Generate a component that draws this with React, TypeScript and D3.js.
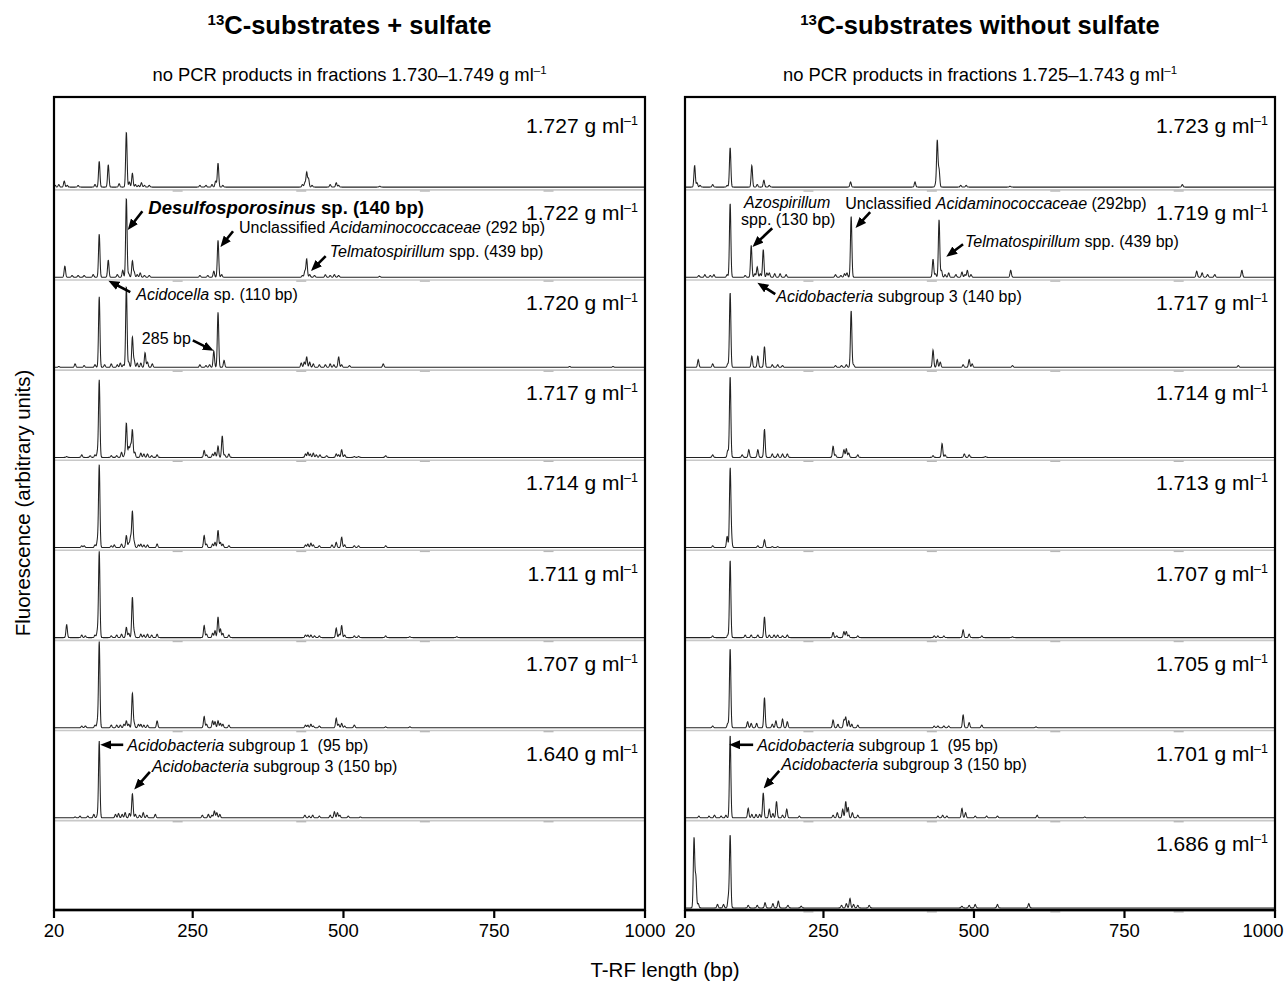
import React from 'react';
import * as d3 from 'd3';

type Peak = [number, number]; // [T-RF length (bp), relative height (% of lane)]

const xDomain: [number, number] = [20, 1000];
const xTickValues = [20, 250, 500, 750, 1000];
const rulerBp = [225, 430, 635, 840];

const leftTitle = 'C-substrates + sulfate';
const rightTitle = 'C-substrates without sulfate';
const leftSubtitle = 'no PCR products in fractions 1.730–1.749 g ml';
const rightSubtitle = 'no PCR products in fractions 1.725–1.743 g ml';

const leftDensities = ['1.727', '1.722', '1.720', '1.717', '1.714', '1.711', '1.707', '1.640'];
const rightDensities = ['1.723', '1.719', '1.717', '1.714', '1.713', '1.707', '1.705', '1.701', '1.686'];

// ---- left panel (+ sulfate) ----
const L1727: Peak[] = [[22,2],[28,3],[37,7],[42,2],[60,2],[88,3],[95,30],[110,26],[128,4],[140,64],[145,6],[150,16],[155,3],[160,2],[165,5],[170,2],[178,2],[262,2],[272,2],[282,3],[288,7],[292,28],[300,2],[432,3],[436,5],[439,17],[442,10],[448,2],[478,3],[488,5],[492,2],[560,1]];
const L1722: Peak[] = [[38,13],[50,2],[60,2],[70,2],[85,3],[95,50],[110,20],[125,3],[134,8],[140,92],[144,4],[150,19],[153,6],[158,3],[163,5],[170,2],[178,2],[262,2],[275,2],[285,7],[292,43],[298,3],[432,2],[436,7],[439,21],[444,3],[452,2],[470,3],[478,2],[485,3],[492,2],[560,1]];
const L1720: Peak[] = [[28,1],[55,4],[70,2],[88,3],[95,82],[104,3],[115,4],[125,3],[130,5],[135,3],[140,94],[144,6],[150,35],[153,8],[158,5],[164,5],[171,17],[175,6],[183,4],[262,3],[272,2],[278,3],[285,19],[292,64],[302,8],[430,5],[435,6],[439,12],[444,6],[450,4],[460,3],[470,3],[478,4],[484,3],[492,12],[497,3],[510,2],[566,4],[875,1],[947,1]];
const L1717: Peak[] = [[41,1],[66,3],[80,2],[88,3],[92,6],[95,90],[115,2],[124,2],[132,6],[137,3],[140,40],[144,12],[147,14],[150,32],[154,6],[164,5],[169,4],[175,4],[182,2],[191,3],[269,8],[273,3],[283,4],[287,6],[292,13],[299,25],[303,3],[310,4],[437,4],[441,6],[445,4],[450,5],[455,3],[461,3],[472,2],[488,4],[492,3],[497,9],[502,3],[518,1],[525,1],[570,2]];
const L1714: Peak[] = [[66,2],[70,2],[88,3],[92,8],[95,96],[115,2],[120,3],[132,4],[140,14],[144,5],[147,12],[150,42],[153,6],[160,3],[164,4],[169,3],[175,3],[191,4],[269,14],[273,4],[283,4],[287,6],[292,20],[296,6],[300,4],[310,2],[437,3],[441,4],[446,5],[450,3],[460,2],[481,3],[488,6],[497,12],[502,3],[518,2],[525,2],[570,2]];
const L1711: Peak[] = [[41,15],[66,3],[72,2],[88,3],[92,8],[95,100],[115,2],[124,3],[132,4],[140,12],[144,5],[150,47],[153,6],[164,4],[169,3],[175,4],[182,3],[191,4],[269,14],[273,4],[283,5],[287,8],[292,24],[296,10],[300,5],[310,3],[437,3],[441,3],[446,3],[452,2],[460,2],[488,11],[493,4],[497,14],[502,3],[518,2],[525,2],[570,2],[610,1],[688,1]];
const L1707: Peak[] = [[66,2],[72,2],[88,3],[92,7],[95,100],[115,3],[124,3],[130,3],[136,4],[140,8],[144,4],[150,40],[153,5],[160,4],[164,4],[169,3],[175,3],[191,8],[269,13],[273,4],[283,8],[287,7],[292,8],[296,5],[300,4],[310,3],[437,3],[441,3],[446,4],[450,2],[460,2],[488,11],[492,4],[497,5],[502,2],[518,3],[570,1],[610,1]];
const L1640: Peak[] = [[55,1],[63,2],[76,2],[86,4],[92,3],[95,89],[122,4],[127,5],[133,4],[138,6],[145,5],[150,28],[155,4],[162,3],[168,6],[174,3],[188,4],[266,3],[276,4],[282,3],[286,8],[290,6],[295,4],[436,3],[443,2],[449,3],[460,2],[478,3],[485,7],[490,6],[494,3],[508,2],[528,1]];

// ---- right panel (without sulfate) ----
const R1723: Peak[] = [[36,25],[40,5],[45,2],[66,3],[90,2],[95,46],[131,25],[140,3],[151,8],[160,2],[295,6],[402,6],[436,3],[439,54],[442,20],[478,2],[487,2],[560,1],[846,3]];
const R1719: Peak[] = [[43,2],[53,3],[62,2],[68,3],[90,3],[95,86],[120,2],[130,37],[136,4],[140,12],[145,4],[150,32],[156,5],[160,5],[169,4],[178,4],[188,3],[270,3],[279,2],[285,4],[289,5],[296,71],[432,21],[436,4],[442,67],[446,8],[452,3],[458,5],[470,3],[480,6],[485,3],[489,8],[495,3],[561,8],[870,7],[879,5],[888,3],[900,3],[945,8]];
const R1717: Peak[] = [[42,9],[66,4],[91,4],[95,87],[131,13],[141,13],[152,24],[165,3],[174,3],[182,2],[270,2],[280,2],[288,3],[296,66],[300,3],[432,20],[439,9],[444,6],[482,3],[492,9],[497,4],[564,2],[939,2]];
const R1714: Peak[] = [[66,3],[91,8],[95,94],[115,3],[126,9],[141,9],[152,33],[165,4],[174,4],[182,4],[190,4],[266,13],[270,3],[284,9],[288,10],[292,5],[307,3],[432,2],[447,16],[452,3],[484,4],[492,3],[519,1]];
const R1713: Peak[] = [[66,2],[90,13],[95,90],[97,12],[141,2],[152,9],[165,1],[174,1]];
const R1707: Peak[] = [[66,2],[91,3],[95,90],[120,3],[130,3],[141,3],[152,24],[160,3],[168,3],[174,3],[182,2],[190,3],[266,6],[272,2],[284,7],[288,7],[292,3],[307,2],[434,2],[440,2],[450,2],[482,9],[492,4],[513,2],[564,1]];
const R1705: Peak[] = [[66,2],[91,5],[95,92],[124,7],[130,5],[139,5],[152,35],[165,4],[171,8],[182,10],[190,7],[266,9],[274,4],[284,9],[287,12],[292,8],[297,4],[307,3],[434,2],[440,2],[450,2],[458,2],[482,15],[492,6],[513,3],[603,1]];
const R1701: Peak[] = [[43,2],[60,2],[69,3],[80,2],[88,3],[95,96],[125,11],[131,4],[138,4],[144,4],[150,29],[160,10],[166,5],[172,19],[182,3],[189,10],[210,2],[266,3],[273,6],[282,10],[287,19],[291,12],[298,6],[307,3],[440,2],[448,3],[455,2],[480,11],[486,6],[502,2],[521,2],[539,2],[605,3],[684,1]];
const R1686: Peak[] = [[35,81],[38,36],[42,5],[74,4],[84,4],[92,12],[95,85],[125,3],[140,3],[153,6],[166,5],[175,8],[191,3],[213,2],[280,3],[288,5],[294,11],[300,4],[307,3],[326,3],[480,2],[492,3],[502,4],[539,4],[591,5]];

const leftTraces = [L1727, L1722, L1720, L1717, L1714, L1711, L1707, L1640];
const rightTraces = [R1723, R1719, R1717, R1714, R1713, R1707, R1705, R1701, R1686];

type Seg = { t: string; i?: boolean };
type NoteLine = { dx: number; dy: number; anchor?: 'start' | 'middle' | 'end'; size: number; bold?: boolean; segs: Seg[] };
type Note = { track: number; bp: number; tip: [number, number]; vec: [number, number]; lines: NoteLine[] };

const leftNotes: Note[] = [
  { track: 1, bp: 140, tip: [2, 48], vec: [14, -18], lines: [{ dx: 6, dy: 3, size: 18.5, bold: true, segs: [{ t: 'Desulfosporosinus', i: true }, { t: ' sp. (140 bp)' }] }] },
  { track: 1, bp: 292, tip: [3, 31], vec: [12, -15], lines: [{ dx: 6, dy: 2, size: 16, segs: [{ t: 'Unclassified ' }, { t: 'Acidaminococcaceae', i: true }, { t: ' (292 bp)' }] }] },
  { track: 1, bp: 439, tip: [5, 7], vec: [14, -14], lines: [{ dx: 4, dy: 1, size: 16, segs: [{ t: 'Telmatospirillum', i: true }, { t: ' spp. (439 bp)' }] }] },
  { track: 1, bp: 110, tip: [1, -4], vec: [21, 11], lines: [{ dx: 6, dy: 8, size: 16, segs: [{ t: 'Acidocella', i: true }, { t: ' sp. (110 bp)' }] }] },
  { track: 2, bp: 285, tip: [-1, 17], vec: [-20, -10], lines: [{ dx: -2, dy: 4, anchor: 'end', size: 16, segs: [{ t: '285 bp' }] }] },
  { track: 7, bp: 95, tip: [2, 73], vec: [22, 0], lines: [{ dx: 4, dy: 6, size: 16, segs: [{ t: 'Acidobacteria', i: true }, { t: ' subgroup 1  (95 bp)' }] }] },
  { track: 7, bp: 150, tip: [2.5, 29], vec: [15, -17], lines: [{ dx: 2, dy: 0, size: 16, segs: [{ t: 'Acidobacteria', i: true }, { t: ' subgroup 3 (150 bp)' }] }] },
];

const rightNotes: Note[] = [
  { track: 1, bp: 130, tip: [2, 31], vec: [19, -18], lines: [
    { dx: 15, dy: -20, anchor: 'middle', size: 16, segs: [{ t: 'Azospirillum', i: true }] },
    { dx: 16, dy: -3, anchor: 'middle', size: 16, segs: [{ t: 'spp. (130 bp)' }] },
  ] },
  { track: 1, bp: 296, tip: [5, 50], vec: [14, -15], lines: [{ dx: -25, dy: -3, size: 16, segs: [{ t: 'Unclassified ' }, { t: 'Acidaminococcaceae', i: true }, { t: ' (292bp)' }] }] },
  { track: 1, bp: 442, tip: [8, 21], vec: [16, -12], lines: [{ dx: 2, dy: 3, size: 16, segs: [{ t: 'Telmatospirillum', i: true }, { t: ' spp. (439 bp)' }] }] },
  { track: 1, bp: 140, tip: [1, -6], vec: [17, 11], lines: [{ dx: 1, dy: 8, size: 16, segs: [{ t: 'Acidobacteria', i: true }, { t: ' subgroup 3 (140 bp)' }] }] },
  { track: 7, bp: 95, tip: [0, 73], vec: [23, 0], lines: [{ dx: 4, dy: 6, size: 16, segs: [{ t: 'Acidobacteria', i: true }, { t: ' subgroup 1  (95 bp)' }] }] },
  { track: 7, bp: 150, tip: [1, 30], vec: [15, -17], lines: [{ dx: 2, dy: -1, size: 16, segs: [{ t: 'Acidobacteria', i: true }, { t: ' subgroup 3 (150 bp)' }] }] },
];

const FONT = "'Liberation Sans', Arial, Helvetica, sans-serif";
const W = 1284;
const H = 982;
const frameTop = 97;
const frameBottom = 910;
const trackH = 90.1;
const hScale = (trackH - 4) / 100;

function tracePath(peaks: Peak[], x: d3.ScaleLinear<number, number>, base: number): string {
  const [r0, r1] = x.range();
  const sigma = 0.7;
  const pk = peaks.map(([bp, h]) => [x(bp), h * hScale] as [number, number]);
  const pts: [number, number][] = [];
  for (let p = r0 + 0.5; p <= r1 - 0.5; p += 0.25) {
    let s = 0;
    for (const [cx, hh] of pk) {
      const d = p - cx;
      if (d > -4 && d < 4) s += hh * Math.exp(-(d * d) / (2 * sigma * sigma));
    }
    pts.push([p, base - s]);
  }
  return d3.line<[number, number]>()(pts) || '';
}

function Panel({ x0, x1, title, subtitle, densities, traces, notes }: {
  x0: number; x1: number; title: string; subtitle: string; densities: string[]; traces: Peak[][]; notes: Note[];
}) {
  const x = d3.scaleLinear().domain(xDomain).range([x0, x1]);
  const cx = (x0 + x1) / 2;
  const baseOf = (i: number) => frameTop + (i + 1) * trackH;
  return (
    <g>
      <text x={cx} y={34} textAnchor="middle" fontWeight="bold" fontSize={25.5} fontFamily={FONT}>
        <tspan fontSize={15} dy={-9}>13</tspan>
        <tspan dy={9}>{title}</tspan>
      </text>
      <text x={cx} y={81} textAnchor="middle" fontSize={18.4} fontFamily={FONT}>
        {subtitle}
        <tspan fontSize={11.5} dy={-7}>–1</tspan>
      </text>
      {traces.map((peaks, i) => {
        const base = baseOf(i);
        return (
          <g key={i}>
            <line x1={x0} x2={x1} y1={base + 2.8} y2={base + 2.8} stroke="#c8c8c8" strokeWidth={1.6} />
            {rulerBp.map((b) => (
              <rect key={b} x={x(b) - 5} y={base + 3.2} width={10} height={1.4} fill="#b8b8b8" />
            ))}
            <path d={tracePath(peaks, x, base)} fill="none" stroke="#222" strokeWidth={1.05} />
            <text x={x1 - 7} y={base - trackH + 33 + (i === 0 ? 3 : 0)} textAnchor="end" fontSize={21} fontFamily={FONT}>
              {densities[i]} g ml
              <tspan fontSize={12.5} dy={-8}>–1</tspan>
            </text>
          </g>
        );
      })}
      {notes.map((n, k) => {
        const base = baseOf(n.track);
        const tx = x(n.bp) + n.tip[0];
        const ty = base - n.tip[1];
        const sx = tx + n.vec[0];
        const sy = ty + n.vec[1];
        const len = Math.hypot(n.vec[0], n.vec[1]);
        const ex = tx + (n.vec[0] / len) * 5;
        const ey = ty + (n.vec[1] / len) * 5;
        return (
          <g key={k}>
            <line x1={sx} y1={sy} x2={ex} y2={ey} stroke="#000" strokeWidth={2.6} markerEnd="url(#arrowHead)" />
            {n.lines.map((ln, j) => (
              <text key={j} x={sx + ln.dx} y={sy + ln.dy} textAnchor={ln.anchor || 'start'} fontSize={ln.size}
                fontWeight={ln.bold ? 'bold' : 'normal'} fontFamily={FONT} style={{ whiteSpace: 'pre' }}>
                {ln.segs.map((s, m) => (
                  <tspan key={m} fontStyle={s.i ? 'italic' : 'normal'}>{s.t}</tspan>
                ))}
              </text>
            ))}
          </g>
        );
      })}
      <rect x={x0} y={frameTop} width={x1 - x0} height={frameBottom - frameTop} fill="none" stroke="#000" strokeWidth={2.2} />
      <line x1={x0} x2={x1} y1={frameBottom} y2={frameBottom} stroke="#000" strokeWidth={2.6} />
      {xTickValues.map((t) => (
        <g key={t}>
          <line x1={x(t)} x2={x(t)} y1={frameBottom} y2={frameBottom + 8} stroke="#000" strokeWidth={2.2} />
          <text x={Math.min(x(t), W - 21)} y={937} textAnchor="middle" fontSize={18.5} fontFamily={FONT}>{t}</text>
        </g>
      ))}
    </g>
  );
}

export default function App() {
  return (
    <div style={{ position: 'absolute', left: 0, top: 0 }}>
      <svg width={W} height={H} viewBox={`0 0 ${W} ${H}`} style={{ display: 'block', background: '#fff' }}>
        <defs>
          <marker id="arrowHead" viewBox="0 0 11 9" refX={5} refY={4.5} markerWidth={11} markerHeight={9}
            orient="auto" markerUnits="userSpaceOnUse">
            <path d="M0,0 L11,4.5 L0,9 z" fill="#000" />
          </marker>
        </defs>
        <rect x={0} y={0} width={W} height={H} fill="#fff" />
        <Panel x0={54} x1={645} title={leftTitle} subtitle={leftSubtitle} densities={leftDensities} traces={leftTraces} notes={leftNotes} />
        <Panel x0={685} x1={1275} title={rightTitle} subtitle={rightSubtitle} densities={rightDensities} traces={rightTraces} notes={rightNotes} />
        <text x={665} y={977} textAnchor="middle" fontSize={20.5} fontFamily={FONT}>T-RF length (bp)</text>
        <text transform="translate(30,503) rotate(-90)" textAnchor="middle" fontSize={20.5} fontFamily={FONT}>
          Fluorescence (arbitrary units)
        </text>
      </svg>
    </div>
  );
}
